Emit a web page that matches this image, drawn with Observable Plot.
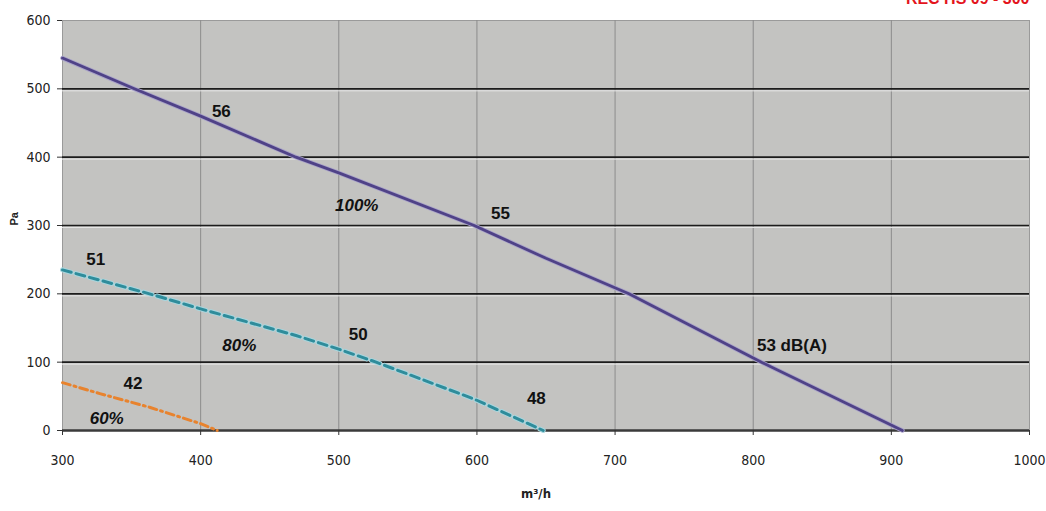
<!DOCTYPE html>
<html>
<head>
<meta charset="utf-8">
<script src="https://cdn.jsdelivr.net/npm/d3@7"></script>
<script src="https://cdn.jsdelivr.net/npm/@observablehq/plot@0.6"></script>
<style>
  html, body { margin: 0; padding: 0; background: #fff; }
  #chart { width: 1046px; height: 511px; }
  g[aria-label$="tick label"] { font-stretch: condensed; }
</style>
</head>
<body>
<div id="chart"></div>
<script>
// ---- data ----
const flow100 = [300, 352, 400, 469, 500, 598, 650, 710, 806, 908];
const pa100   = [545, 500, 460, 400, 377, 300, 252, 200, 100, 0];
const flow80  = [300, 363, 400, 469, 500, 527, 598, 648];
const pa80    = [235, 200, 178, 139, 119, 100, 46, 0];
const flow60  = [300, 327, 363, 400, 412];
const pa60    = [70, 54, 34, 10, 0];

const xTicks = [300, 400, 500, 600, 700, 800, 900, 1000];
const yTicks = [0, 100, 200, 300, 400, 500, 600];
const hGrid  = [100, 200, 300, 400, 500];
const vGrid  = [400, 500, 600, 700, 800, 900];

const noiseText = ["56", "55", "53 dB(A)", "51", "50", "48", "42"];
const noiseX    = [415, 617, 828, 324, 514, 643, 351];
const noiseY    = [467, 318, 124, 250, 141, 47, 69];
const speedText = ["100%", "80%", "60%"];
const speedX    = [513, 428, 332];
const speedY    = [329, 124, 18];

const titleText = "REC HS 09 - 300";
const xLabel = "m³/h";
const yLabel = "Pa";

// ---- build tables ----
const l100 = flow100.map((x, i) => ({x, y: pa100[i]}));
const l80  = flow80.map((x, i) => ({x, y: pa80[i]}));
const l60  = flow60.map((x, i) => ({x, y: pa60[i]}));
const noise = noiseText.map((t, i) => ({t, x: noiseX[i], y: noiseY[i]}));
const speed = speedText.map((t, i) => ({t, x: speedX[i], y: speedY[i]}));

const tickFont = "'DejaVu Sans Condensed', 'Liberation Sans Narrow', 'DejaVu Sans', sans-serif";
const labelFont = "'Liberation Sans', Arial, sans-serif";

const plot = Plot.plot({
  width: 1046,
  height: 511,
  marginLeft: 62,
  marginRight: 17,
  marginTop: 20,
  marginBottom: 81,
  style: {background: "#fff", overflow: "hidden", fontFamily: labelFont},
  x: {domain: [300, 1000], ticks: xTicks, tickFormat: d => String(d), label: null},
  y: {domain: [0, 600], ticks: yTicks, tickFormat: d => String(d), label: null},
  marks: [
    Plot.frame({fill: "#c3c3c1", stroke: "#9a9a9a", strokeWidth: 1}),
    Plot.ruleX(vGrid, {stroke: "#8c8c8c", strokeWidth: 1}),
    Plot.ruleY(hGrid, {stroke: "#e6e6e6", strokeWidth: 1, dy: 2}),
    Plot.ruleY(hGrid, {stroke: "#1c1c1c", strokeWidth: 1.7}),
    Plot.ruleY([0], {stroke: "#3a3a3a", strokeWidth: 2.5}),
    Plot.axisX({ticks: xTicks, tickFormat: d => String(d), tickSize: 5, tickPadding: 20, fontSize: 14, fontFamily: tickFont, fill: "#222", stroke: "#333"}),
    Plot.axisY({ticks: yTicks, tickFormat: d => String(d), tickSize: 5, tickPadding: 7, fontSize: 14, fontFamily: tickFont, fill: "#222", stroke: "#333"}),
    // 100% curve
    Plot.line(l100, {x: "x", y: "y", stroke: "#aaa4c9", strokeWidth: 4.5}),
    Plot.line(l100, {x: "x", y: "y", stroke: "#4f4287", strokeWidth: 2.8}),
    // 80% curve
    Plot.line(l80, {x: "x", y: "y", stroke: "#a8d6de", strokeWidth: 5, strokeDasharray: "9,5"}),
    Plot.line(l80, {x: "x", y: "y", stroke: "#2f8c9b", strokeWidth: 3, strokeDasharray: "9,5"}),
    // 60% curve
    Plot.line(l60, {x: "x", y: "y", stroke: "#e8832e", strokeWidth: 3, strokeDasharray: "8,4,2,4"}),
    // labels
    Plot.text(noise, {x: "x", y: "y", text: "t", fontSize: 17, fontWeight: "bold", fill: "#111", fontFamily: labelFont}),
    Plot.text(speed, {x: "x", y: "y", text: "t", fontSize: 17, fontWeight: "bold", fontStyle: "italic", fill: "#111", fontFamily: labelFont}),
    // axis titles
    Plot.text([yLabel], {frameAnchor: "left", dx: -48, rotate: -90, fontSize: 11, fontWeight: "bold", fill: "#222", fontFamily: labelFont, letterSpacing: 2}),
    Plot.text([xLabel], {frameAnchor: "bottom", dx: -10, dy: 67, fontSize: 13, fontWeight: "bold", fill: "#222", fontFamily: tickFont}),
    // clipped red title at top right (cut off at the top edge as in the reference)
    Plot.text([titleText], {frameAnchor: "top-right", textAnchor: "end", lineAnchor: "bottom", dx: 0, dy: -17, fontSize: 16, fontWeight: "bold", fill: "#e3141c", fontFamily: labelFont})
  ]
});

document.getElementById("chart").appendChild(plot);
</script>
</body>
</html>
